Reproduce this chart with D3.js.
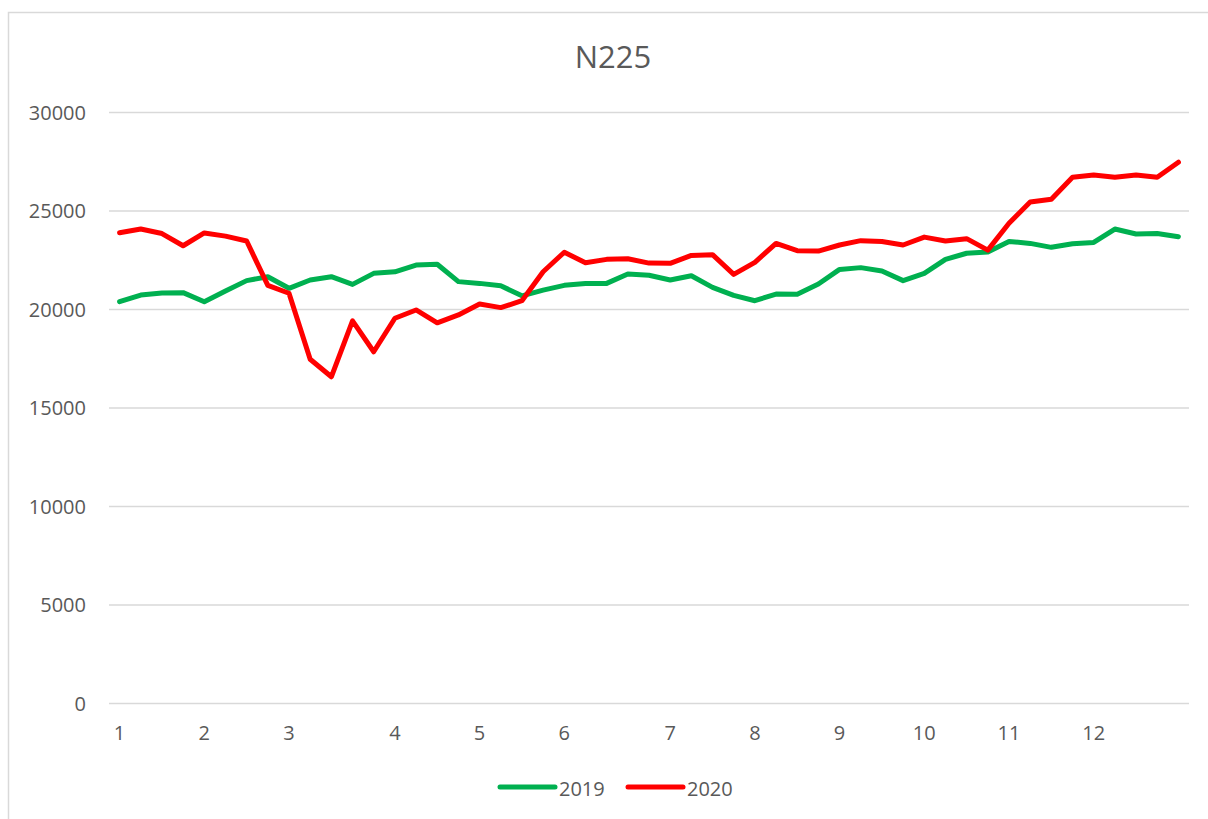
<!DOCTYPE html>
<html>
<head>
<meta charset="utf-8">
<script src="https://cdn.jsdelivr.net/npm/d3@7"></script>
<style>
  body { margin: 0; background: #fff; }
  svg { display: block; font-family: "Open Sans", sans-serif; }
</style>
</head>
<body>
<svg id="svg" width="1208" height="819"></svg>
<script>
// weekly closes, one label per category (month number on first week of month)
var weekLabels = ["1","","","","2","","","","3","","","","","4","","","","5","","","","6","","","","",
                  "7","","","","8","","","","9","","","","10","","","","11","","","","12","","","",""];

var values2019 = [20370,20710,20810,20830,20370,20910,21440,21640,21050,21470,21640,21250,21810,
                  21890,22230,22270,21390,21300,21180,20670,20960,21200,21300,21300,21780,21710,
                  21470,21690,21100,20690,20420,20760,20750,21270,22010,22100,21930,21440,21810,
                  22520,22830,22890,23430,23330,23130,23310,23380,24060,23810,23830,23670];

var values2020 = [23870,24060,23830,23210,23860,23700,23450,21200,20800,17450,16560,19400,17830,
                  19530,19950,19300,19700,20250,20070,20420,21890,22880,22350,22520,22550,22330,
                  22320,22720,22760,21760,22370,23330,22960,22940,23250,23470,23430,23250,23650,
                  23450,23570,22990,24350,25430,25570,26690,26800,26690,26800,26690,27450];

var yTicks = [0,5000,10000,15000,20000,25000,30000];

var seriesList = [
  {name:"2019", values:values2019, color:"#00B050"},
  {name:"2020", values:values2020, color:"#FF0000"}
];

function draw(){
    var svg=d3.select("#svg");
    var left=109, right=1189, top=112, bottom=703;

    // chart frame (only top and left edges are in view)
    svg.append("rect")
      .attr("x",8.5).attr("y",12.5).attr("width",1400).attr("height",1000)
      .attr("fill","none").attr("stroke","#d9d9d9").attr("stroke-width",1.5);

    svg.append("text")
      .attr("x",613).attr("y",67.5).attr("text-anchor","middle")
      .attr("font-size",31).attr("fill","#595959")
      .text("N225");

    var x=d3.scaleBand().domain(d3.range(weekLabels.length)).range([left,right]);
    var y=d3.scaleLinear().domain([0,30000]).range([bottom,top]);

    var yAxis=svg.append("g")
      .attr("transform","translate("+left+",0)")
      .call(d3.axisLeft(y).tickValues(yTicks).tickSize(-(right-left)).tickPadding(23).tickFormat(d3.format("d")));
    yAxis.select(".domain").remove();
    yAxis.selectAll(".tick line").attr("stroke","#d9d9d9").attr("stroke-width",1.5);
    yAxis.selectAll(".tick text").attr("font-size",20).attr("fill","#595959")
      .attr("font-family","Open Sans, sans-serif").attr("dy","0.36em");

    var xAxis=svg.append("g")
      .attr("transform","translate(0,"+bottom+")")
      .call(d3.axisBottom(x).tickSize(0).tickPadding(23).tickFormat(function(i){return weekLabels[i]}));
    xAxis.select(".domain").remove();
    xAxis.selectAll(".tick text").attr("font-size",20).attr("fill","#595959")
      .attr("font-family","Open Sans, sans-serif");

    var line=d3.line()
      .x(function(d,i){return x(i)+x.bandwidth()/2})
      .y(function(d){return y(d)});

    svg.selectAll("path.series").data(seriesList).enter().append("path")
      .attr("class","series")
      .attr("d",function(s){return line(s.values)})
      .attr("fill","none")
      .attr("stroke",function(s){return s.color})
      .attr("stroke-width",5)
      .attr("stroke-linejoin","round")
      .attr("stroke-linecap","round");

    // legend
    var legendX=[500,628];
    var lg=svg.selectAll("g.legend").data(seriesList).enter().append("g")
      .attr("class","legend")
      .attr("transform",function(s,i){return "translate("+legendX[i]+",787)"});
    lg.append("line").attr("x1",0).attr("x2",55).attr("y1",0).attr("y2",0)
      .attr("stroke",function(s){return s.color}).attr("stroke-width",5).attr("stroke-linecap","round");
    lg.append("text").attr("x",59).attr("y",8.5).attr("font-size",20).attr("fill","#595959")
      .text(function(s){return s.name});
}

draw();
</script>
</body>
</html>
